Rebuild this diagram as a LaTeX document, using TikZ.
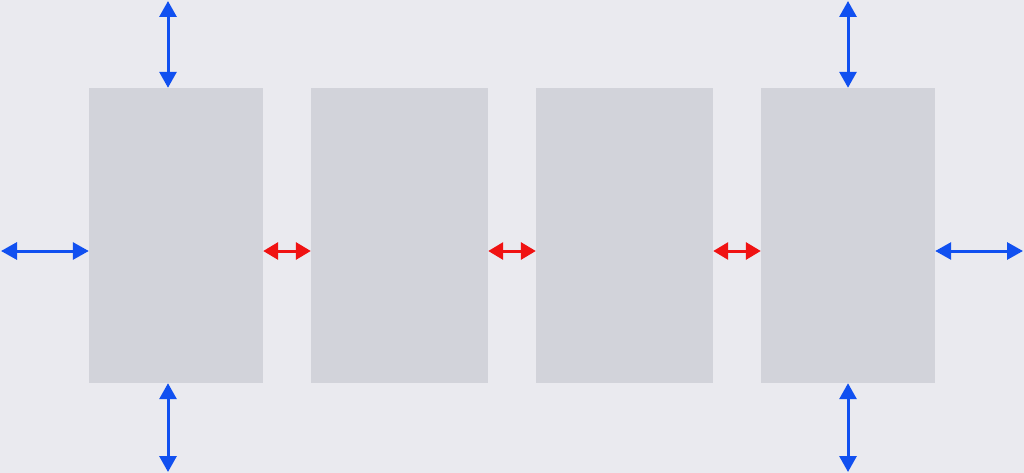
\documentclass[tikz,border=0pt]{standalone}
\usetikzlibrary{arrows.meta}
\definecolor{bg}{HTML}{EAEAEF}
\definecolor{boxc}{HTML}{D2D3DA}
\definecolor{blu}{HTML}{1150F0}
\definecolor{rd}{HTML}{F01212}
\tikzset{
  panel/.style={fill=boxc, draw=none, inner sep=0pt, minimum width=#1, minimum height=295pt},
  barrow/.style={blu, line width=3pt, {Triangle[length=16pt,width=17pt]}-{Triangle[length=16pt,width=17pt]}},
  rarrow/.style={rd, line width=3pt, {Triangle[length=15pt,width=17pt]}-{Triangle[length=15pt,width=17pt]}}
}
\begin{document}
\begin{tikzpicture}[x=1pt,y=-1pt]
\fill[bg] (0,0) rectangle (1024,473);
\useasboundingbox (0,0) rectangle (1024,473);
\node[panel=174pt] (b1) at (176,235.5) {};
\node[panel=177pt] (b2) at (399.5,235.5) {};
\node[panel=177pt] (b3) at (624.5,235.5) {};
\node[panel=174pt] (b4) at (848,235.5) {};
\coordinate (t1) at (168,1);
\coordinate (d1) at (168,472);
\coordinate (t4) at (848,1);
\coordinate (d4) at (848,472);
\coordinate (l1) at (1,251);
\coordinate (r4) at (1023,251);
\draw[barrow] (t1) -- (t1 |- b1.north);
\draw[barrow] (d1 |- b1.south) -- (d1);
\draw[barrow] (t4) -- (t4 |- b4.north);
\draw[barrow] (d4 |- b4.south) -- (d4);
\draw[barrow] (l1) -- (l1 -| b1.west);
\draw[barrow] (r4 -| b4.east) -- (r4);
\draw[rarrow] (b1.east |- l1) -- (b2.west |- l1);
\draw[rarrow] (b2.east |- l1) -- (b3.west |- l1);
\draw[rarrow] (b3.east |- l1) -- (b4.west |- l1);
\end{tikzpicture}
\end{document}
